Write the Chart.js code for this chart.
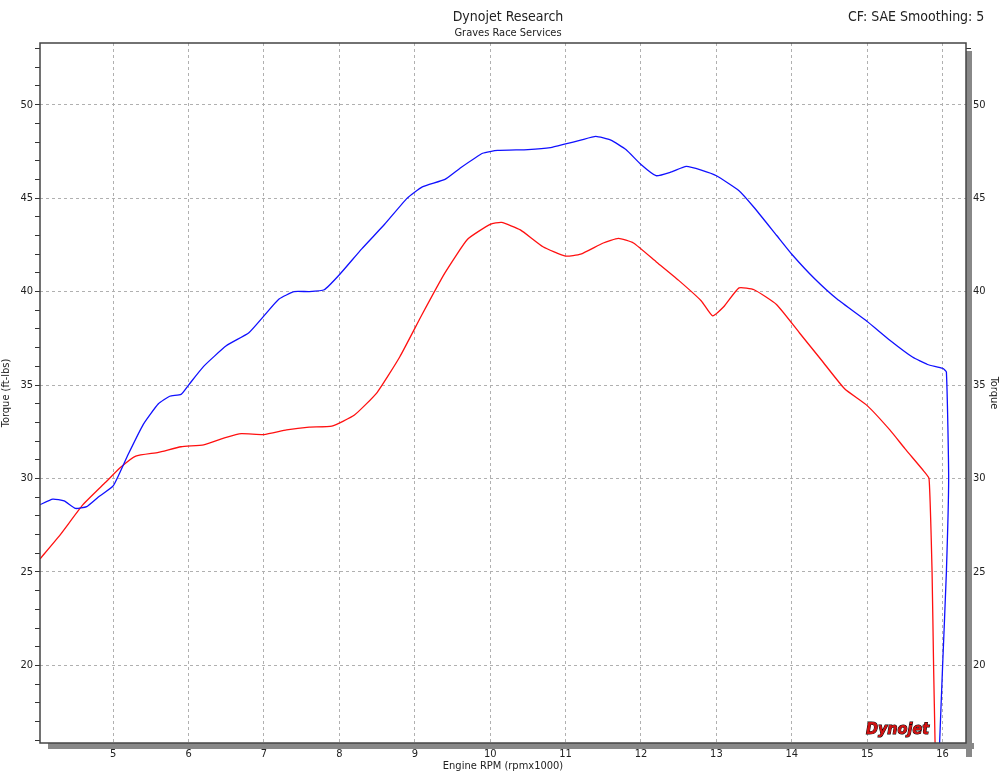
<!DOCTYPE html>
<html><head><meta charset="utf-8">
<script src="https://cdn.jsdelivr.net/npm/chart.js@4/dist/chart.umd.min.js"></script>
<style>html,body{margin:0;padding:0;background:#fff}#w{width:1000px;height:773px}</style>
</head><body><div id="w"><canvas id="c"></canvas></div>
<script>
const blueRpm=[4.03,4.2,4.35,4.5,4.65,4.8,5.0,5.2,5.4,5.6,5.75,5.9,6.0,6.2,6.5,6.8,7.0,7.2,7.4,7.6,7.8,8.0,8.3,8.6,8.9,9.1,9.4,9.6,9.9,10.1,10.5,10.8,11.0,11.2,11.4,11.6,11.8,12.0,12.2,12.4,12.6,12.8,13.0,13.3,13.5,13.8,14.0,14.3,14.6,15.0,15.3,15.6,15.8,16.0,16.05,16.08,16.05,16.0,15.96];
const blueTq=[28.6,28.9,28.8,28.4,28.5,29.0,29.6,31.3,32.9,34.0,34.4,34.5,35.0,36.0,37.1,37.8,38.7,39.6,40.0,40.0,40.1,40.9,42.3,43.6,45.0,45.6,46.0,46.6,47.4,47.55,47.6,47.7,47.9,48.1,48.3,48.1,47.6,46.8,46.2,46.4,46.7,46.5,46.2,45.4,44.5,43.0,42.0,40.7,39.6,38.4,37.4,36.5,36.1,35.9,35.7,30,25,20,15.85];
const redRpm=[4.03,4.3,4.6,4.9,5.1,5.3,5.6,5.9,6.2,6.5,6.7,7.0,7.3,7.6,7.9,8.2,8.5,8.8,9.1,9.4,9.7,10.0,10.15,10.4,10.7,11.0,11.2,11.5,11.7,11.9,12.2,12.5,12.8,12.95,13.1,13.3,13.5,13.8,14.1,14.4,14.7,15.0,15.3,15.5,15.75,15.82,15.86,15.88,15.9];
const redTq=[25.7,27.0,28.6,29.8,30.6,31.2,31.4,31.7,31.8,32.2,32.4,32.35,32.6,32.75,32.8,33.4,34.6,36.5,38.8,41.0,42.8,43.6,43.7,43.3,42.4,41.9,42.0,42.6,42.85,42.6,41.6,40.6,39.5,38.7,39.2,40.2,40.1,39.3,37.8,36.3,34.8,33.9,32.6,31.6,30.4,30.0,25,20,15.85];
const xLabels=[5,6,7,8,9,10,11,12,13,14,15,16];
const yLabels=[20,25,30,35,40,45,50];
const FONT='"DejaVu Sans Condensed","DejaVu Sans",sans-serif';
const pts=(a,b)=>a.map((v,i)=>({x:v,y:b[i]}));
const isInt=v=>Math.abs(v-Math.round(v))<1e-6;
const minorX=[];for(let v=4.2;v<16.31;v+=0.2)minorX.push({value:Math.round(v*10)/10});
const minorY=[];for(let v=16;v<=53;v++)minorY.push({value:v});
const deco={id:'deco',afterDraw(c){const g=c.ctx,a=c.chartArea;g.save();
g.fillStyle='#888';g.fillRect(a.right,a.top+8,6,a.bottom-a.top+6);g.fillRect(a.left+8,a.bottom,a.right-a.left,6);
g.strokeStyle='#444';g.lineWidth=1.5;g.strokeRect(a.left,a.top,a.right-a.left,a.bottom-a.top);
g.fillStyle='#222';g.textAlign='center';g.textBaseline='middle';
g.font='14px '+FONT;g.fillText('Dynojet Research',508,17);
g.font='11px '+FONT;g.fillText('Graves Race Services',508,33);
g.font='14px '+FONT;g.textAlign='left';g.fillText('CF: SAE Smoothing: 5',848,17);
g.font='italic bold 16px '+FONT;g.fillStyle='#d01010';g.strokeStyle='#000';g.lineWidth=1;g.strokeText('Dynojet',866,730);g.fillText('Dynojet',866,730);
g.restore();}};
new Chart(document.getElementById('c'),{type:'scatter',
data:{datasets:[
{data:pts(blueRpm,blueTq),showLine:true,borderColor:'#1010ff',borderWidth:1.3,pointRadius:0,tension:0.15},
{data:pts(redRpm,redTq),showLine:true,borderColor:'#ff1010',borderWidth:1.3,pointRadius:0,tension:0.15}]},
options:{responsive:true,maintainAspectRatio:false,animation:false,
layout:{padding:{top:43,left:0,right:0,bottom:0}},
plugins:{legend:{display:false},tooltip:{enabled:false}},
scales:{
x:{type:'linear',min:4.03,max:16.31,afterBuildTicks:s=>{s.ticks=minorX.slice();},
afterFit:s=>{s.height=30;},
ticks:{autoSkip:false,maxRotation:0,padding:0,color:'#222',font:{family:FONT,size:11},callback:v=>isInt(v)?String(Math.round(v)):''},
grid:{color:ctx=>ctx.tick&&isInt(ctx.tick.value)?'#b0b0b0':'rgba(0,0,0,0)',tickColor:'#333',tickLength:5,tickBorderDash:[]},border:{display:false,dash:[3,3]},
title:{display:true,text:'Engine RPM (rpmx1000)',color:'#222',font:{family:FONT,size:11},padding:0}},
y:{type:'linear',min:15.85,max:53.3,afterBuildTicks:s=>{s.ticks=minorY.slice();},afterFit:s=>{s.width=40;},
ticks:{autoSkip:false,padding:2,color:'#222',font:{family:FONT,size:11},callback:v=>v%5===0&&v>=20&&v<=50?String(v):''},
grid:{color:ctx=>ctx.tick&&ctx.tick.value%5===0?'#b0b0b0':'rgba(0,0,0,0)',tickColor:'#333',tickLength:5,tickBorderDash:[]},border:{display:false,dash:[3,3]},
title:{display:true,text:'Torque (ft-lbs)',color:'#222',font:{family:FONT,size:11},padding:0}},
y2:{type:'linear',position:'right',min:15.85,max:53.3,afterBuildTicks:s=>{s.ticks=minorY.slice();},afterFit:s=>{s.width=34;},
ticks:{autoSkip:false,padding:2,color:'#222',font:{family:FONT,size:11},callback:v=>v%5===0&&v>=20&&v<=50?String(v):''},
grid:{drawOnChartArea:false,tickColor:'#333',tickLength:5},border:{display:false},
title:{display:true,text:'Torque',color:'#222',font:{family:FONT,size:11},padding:0}}
}},plugins:[deco]});
</script></body></html>
